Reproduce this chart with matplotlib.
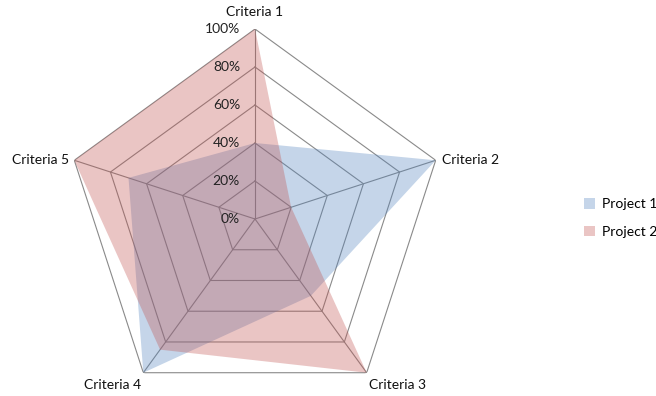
import numpy as np
import matplotlib
matplotlib.use("Agg")
import matplotlib.pyplot as plt
from matplotlib.patches import Patch
from matplotlib.transforms import offset_copy

categories = ["Criteria 1", "Criteria 2", "Criteria 3", "Criteria 4", "Criteria 5"]
project1 = [40, 100, 50, 100, 70]
project2 = [100, 20, 100, 85, 100]
ticks = [0, 20, 40, 60, 80, 100]
tick_labels = ["0%", "20%", "40%", "60%", "80%", "100%"]
series_names = ["Project 1", "Project 2"]

plt.rcParams['font.family'] = ['Lato', 'DejaVu Sans']

W, H = 656, 396
fig = plt.figure(figsize=(W / 100, H / 100), dpi=100)
cx, cy, R = 255, 219, 190
ax = fig.add_axes([(cx - R) / W, (H - cy - R) / H, 2 * R / W, 2 * R / H], projection='polar')
ax.set_theta_zero_location('N')
ax.set_theta_direction(-1)
ax.set_ylim(0, 100)
ax.grid(False)
ax.spines['polar'].set_visible(False)
ax.set_xticks([])
ax.set_yticks([])
ax.patch.set_alpha(0)

n = len(categories)
angles = np.linspace(0, 2 * np.pi, n, endpoint=False)
closed = np.concatenate([angles, angles[:1]])

grid_c = '#8a8a8a'
for t in ticks[1:]:
    ax.plot(closed, [t] * (n + 1), color=grid_c, lw=0.8, zorder=1)
for a in angles:
    ax.plot([a, a], [0, 100], color=grid_c, lw=0.8, zorder=1)

colors = ['#4F81BD', '#C0504D']
for vals, col in zip([project1, project2], colors):
    v = list(vals) + [vals[0]]
    ax.fill(closed, v, color=col, alpha=0.33, lw=0, zorder=2)

tr = offset_copy(ax.transData, fig=fig, x=-15, y=0, units='dots')
for t, lab in zip(ticks, tick_labels):
    ax.text(0, t, lab, transform=tr, ha='right', va='center', fontsize=10, color='#222222', zorder=5)

fs = 10
pos = [
    (0, 0, 11, 'center', 'bottom'),
    (0, 6, 0, 'left', 'center'),
    (0, 2, -6, 'left', 'top'),
    (0, -2, -6, 'right', 'top'),
    (0, -5, 0, 'right', 'center'),
]
for a, lab, (_, dx, dy, ha, va) in zip(angles, categories, pos):
    trc = offset_copy(ax.transData, fig=fig, x=dx, y=dy, units='dots')
    ax.text(a, 100, lab, transform=trc, ha=ha, va=va, fontsize=fs, color='#111111')

handles = [Patch(facecolor=c, alpha=0.33, edgecolor='none') for c in colors]
fig.legend(handles, series_names, loc='center left', bbox_to_anchor=(584 / W, 1 - 218 / H),
           frameon=False, fontsize=10, handlelength=0.8, handleheight=0.8,
           handletextpad=0.5, labelspacing=1.1, borderaxespad=0, borderpad=0)

fig.savefig('out.png', dpi=100)
